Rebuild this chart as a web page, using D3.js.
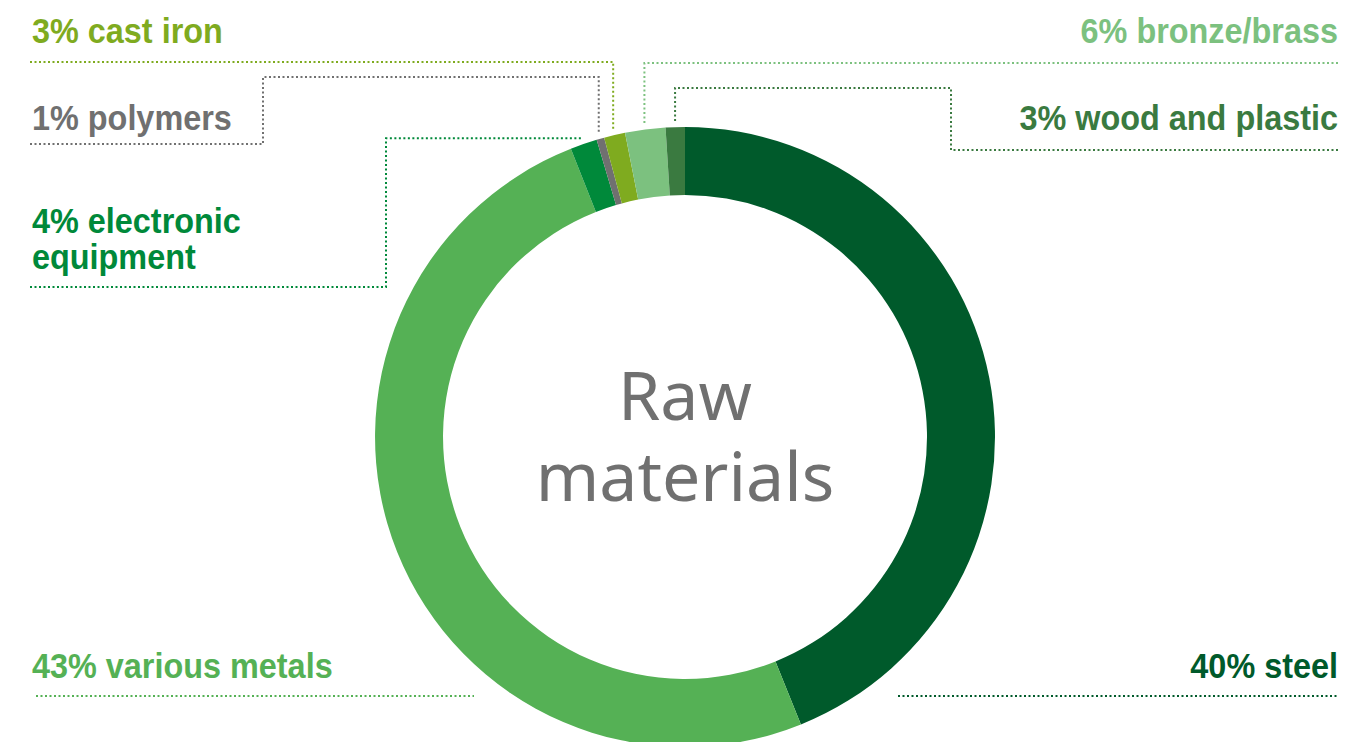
<!DOCTYPE html>
<html>
<head>
<meta charset="utf-8">
<script src="https://cdn.jsdelivr.net/npm/d3@7"></script>
<style>
  html, body { margin: 0; background: #fff; }
  svg { display: block; }
</style>
</head>
<body>
<div id="chart"></div>
<script>
// categories, clockwise from 12 o'clock
const materials = ["steel", "various metals", "electronic equipment", "polymers", "cast iron", "bronze/brass", "wood and plastic"];
// percentages printed in the labels
const labelPct = [40, 43, 4, 1, 3, 6, 3];
// share of the ring each slice covers in the picture
const arcShare = [43.9, 50.1, 1.4, 0.4, 1.1, 2.1, 1.0];
const colors = ["#005a2b", "#55b155", "#00893a", "#707070", "#7fab1f", "#7cc17f", "#3a7a40"];
// label text lines
const labelLines = [
    ["40% steel"], ["43% various metals"], ["4% electronic", "equipment"], ["1% polymers"],
    ["3% cast iron"], ["6% bronze/brass"], ["3% wood and plastic"]
];

const width = 1366, height = 742;
const cx = 685, cy = 437, rOut = 310, rIn = 242;

const svg = d3.select("#chart").append("svg")
    .attr("width", width).attr("height", height);

const pie = d3.pie().sort(null).value(d => d);
const arcs = pie(arcShare);
const arc = d3.arc().innerRadius(rIn).outerRadius(rOut);

const ring = svg.append("g").attr("transform", `translate(${cx},${cy})`);
ring.selectAll("path")
    .data(arcs)
    .enter().append("path")
    .attr("d", arc)
    .attr("fill", (d, i) => colors[i]);

// point just outside the ring at a slice's middle angle
function anchor(d) {
    const a = (d.startAngle + d.endAngle) / 2;
    const r = rOut + 6;
    return [cx + r * Math.sin(a), cy - r * Math.cos(a)];
}

// label placement and leader routing (layout only)
const layout = [
    { x: 1338, y: 678, align: "end",   path: () => [[898, 696], [1338, 696]] },
    { x: 32,   y: 678, align: "start", path: () => [[36, 696], [474, 696]] },
    { x: 32,   y: 233, align: "start", path: ([ax, ay]) => [[30, 287], [386, 287], [386, ay], [ax, ay]] },
    { x: 32,   y: 130, align: "start", path: ([ax, ay]) => [[30, 144], [263, 144], [263, 77], [ax, 77], [ax, ay]] },
    { x: 32,   y: 43,  align: "start", path: ([ax, ay]) => [[30, 62], [ax, 62], [ax, ay]] },
    { x: 1338, y: 43,  align: "end",   path: ([ax, ay]) => [[1338, 63], [ax, 63], [ax, ay]] },
    { x: 1338, y: 130, align: "end",   path: ([ax, ay]) => [[1338, 150], [951, 150], [951, 88], [ax, 88], [ax, ay]] }
];

const line = d3.line();

svg.append("g").selectAll("path")
    .data(arcs)
    .enter().append("path")
    .attr("d", (d, i) => line(layout[i].path(anchor(d))))
    .attr("fill", "none")
    .attr("stroke", (d, i) => colors[i])
    .attr("stroke-width", 2)
    .attr("stroke-dasharray", "2 2.5");

const labels = svg.append("g").selectAll("g")
    .data(arcs)
    .enter().append("g")
    .attr("transform", (d, i) => `translate(${layout[i].x},${layout[i].y}) scale(0.9,1)`);

labels.append("text")
    .attr("text-anchor", (d, i) => layout[i].align)
    .attr("fill", (d, i) => colors[i])
    .style("font-family", "'Liberation Sans', Arial, sans-serif")
    .style("font-weight", "700")
    .style("font-size", "36px")
    .each(function (d, i) {
        d3.select(this).selectAll("tspan")
            .data(labelLines[i])
            .enter().append("tspan")
            .attr("x", 0)
            .attr("dy", (t, j) => j === 0 ? 0 : 36)
            .text(t => t);
    });

// centre title
const title = svg.append("text")
    .attr("text-anchor", "middle")
    .attr("fill", "#707070")
    .style("font-family", "'Noto Sans', sans-serif")
    .style("font-size", "68px");
title.append("tspan").attr("x", cx).attr("y", 420).text("Raw");
title.append("tspan").attr("x", cx).attr("y", 501).text("materials");
</script>
</body>
</html>
